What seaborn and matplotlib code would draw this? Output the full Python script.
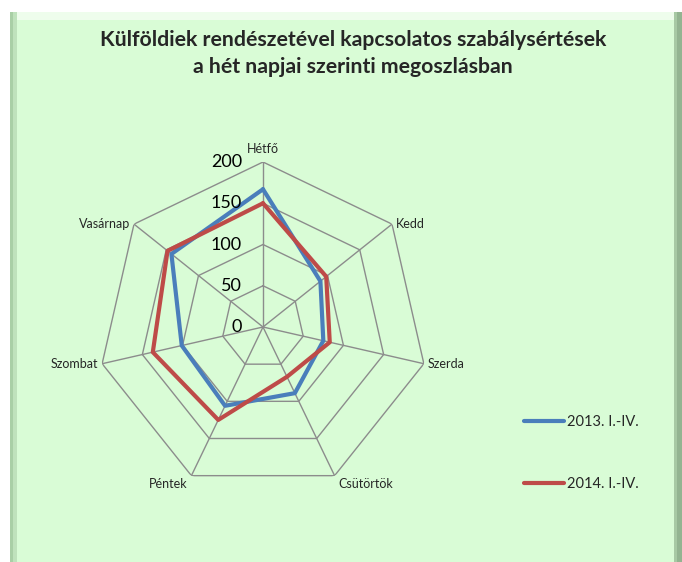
import numpy as np
import seaborn as sns
import matplotlib.pyplot as plt
from matplotlib.patches import Rectangle
from matplotlib.lines import Line2D

days = ['Hétfő', 'Kedd', 'Szerda', 'Csütörtök', 'Péntek', 'Szombat', 'Vasárnap']
y2013 = [167, 89, 75, 89, 106, 101, 142]
y2014 = [150, 98, 83, 67, 125, 137, 148]
series_names = ['2013. I.-IV.', '2014. I.-IV.']
ring_values = [0, 50, 100, 150, 200]

sns.set_style('white')
plt.rcParams['font.family'] = ['Lato', 'DejaVu Sans']

bg = '#D9FCD6'
fig = plt.figure(figsize=(6.82, 5.62), dpi=100)
fig.patch.set_facecolor('white')

# panel with a bevel-like border
W, H = 682, 562
def px_rect(x0, y0, x1, y1, color):
    fig.patches.append(Rectangle((x0 / W, 1 - y1 / H), (x1 - x0) / W, (y1 - y0) / H,
                                 transform=fig.transFigure, facecolor=color,
                                 edgecolor='none', zorder=-5))
px_rect(10, 12, 682, 562, bg)
px_rect(10, 12, 682, 20, '#EEFDEC')
px_rect(10, 12, 17, 562, '#BFE2BC')
px_rect(10, 12, 13, 562, '#A9CFA6')
px_rect(674, 12, 682, 562, '#A7C9A4')
px_rect(677, 12, 682, 562, '#93B491')

ax = fig.add_axes([98 / W, 1 - (327 + 165) / H, 330 / W, 330 / H], projection='polar')
ax.set_zorder(2)
ax.set_facecolor('none')
ax.set_theta_offset(np.pi / 2)
ax.set_theta_direction(-1)
ax.set_ylim(0, 200)
ax.grid(False)
ax.spines['polar'].set_visible(False)
ax.set_xticks([])
ax.set_yticks([])

n = len(days)
angles = np.linspace(0, 2 * np.pi, n, endpoint=False)
closed = np.append(angles, angles[0])

grid_color = '#8C8C8C'
for r in ring_values[1:]:
    ax.plot(closed, [r] * (n + 1), color=grid_color, lw=1.0, zorder=1)
for a in angles:
    ax.plot([a, a], [0, 200], color=grid_color, lw=1.0, zorder=1)

colors = ['#4A7EBB', '#BE4B48']
for vals, c, name in zip([y2013, y2014], colors, series_names):
    ax.plot(closed, vals + [vals[0]], color=c, lw=3.0, zorder=3, label=name)

for r in ring_values:
    ax.annotate(str(r), xy=(0, r), xytext=(-21 * 0.72, 0), textcoords='offset points',
                ha='right', va='center', fontsize=13, color='black')

for a, d in zip(angles, days):
    s = np.sin(a)
    if abs(s) < 0.1:
        ax.annotate(d, xy=(a, 200), xytext=(0, 5), textcoords='offset points',
                    ha='center', va='bottom', fontsize=9)
    else:
        ha = 'left' if s > 0 else 'right'
        dy = -6 if np.cos(a) < -0.5 else 0
        dx = 3 if s > 0 else -3
        ax.annotate(d, xy=(a, 200), xytext=(dx, dy), textcoords='offset points',
                    ha=ha, va='center', fontsize=9)

fig.text(353 / W, 1 - 40 / H, 'Külföldiek rendészetével kapcsolatos szabálysértések',
         ha='center', va='center', fontsize=15.3, fontweight='bold')
fig.text(353 / W, 1 - 67 / H, 'a hét napjai szerinti megoszlásban',
         ha='center', va='center', fontsize=15.3, fontweight='bold')

handles = [Line2D([0], [0], color=c, lw=3, solid_capstyle='round') for c in colors]
fig.legend(handles, series_names, loc='upper left', bbox_to_anchor=(511 / W, 1 - 402 / H),
           frameon=False, fontsize=10.5, handlelength=2.7, handletextpad=0.25,
           labelspacing=3.3)

fig.savefig('out.png', dpi=100, facecolor=fig.get_facecolor())
